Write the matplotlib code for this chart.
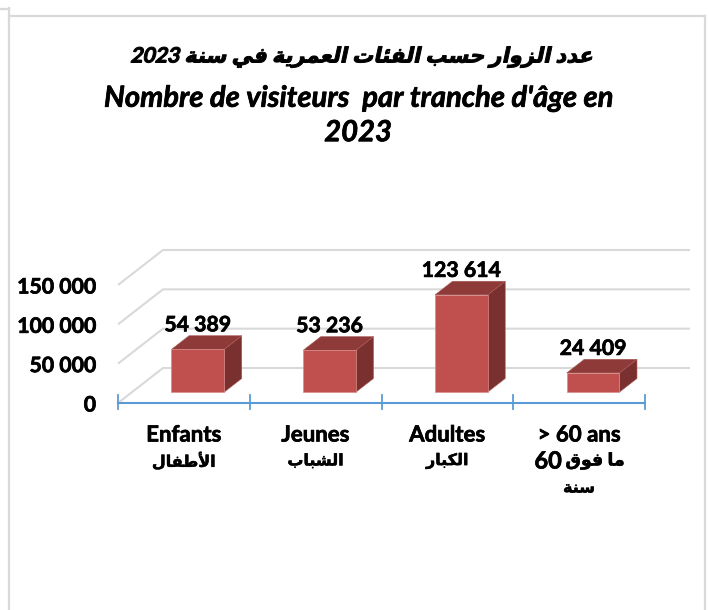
import unicodedata

import matplotlib
matplotlib.use('Agg')
import matplotlib.pyplot as plt
import matplotlib.patheffects as pe
from matplotlib.lines import Line2D
from matplotlib.patches import Polygon
from matplotlib.transforms import Affine2D

title_ar = 'عدد الزوار حسب الفئات العمرية في سنة 2023'
title_fr = "Nombre de visiteurs  par tranche d'âge en\n2023"
cats_fr = ['Enfants', 'Jeunes', 'Adultes', '> 60 ans']
cats_ar = [['الأطفال'], ['الشباب'], ['الكبار'], ['ما فوق 60', 'سنة']]
visitors = [54389, 53236, 123614, 24409]
y_ticks = [0, 50000, 100000, 150000]

W, H = 709, 610
CAT_PX = 131.75
VAL_PX = 118 / 150000
DEPTH_X, DEPTH_Y = 45, 35
FONT = ['Lato', 'DejaVu Sans']
HEAVY = [pe.Stroke(linewidth=0.5, foreground='black'), pe.Normal()]
HEAVY_AR = [pe.Stroke(linewidth=0.35, foreground='black'), pe.Normal()]


# matplotlib does no arabic shaping, so pick the presentation forms by hand
forms = {}
for code in list(range(0xFB50, 0xFE00)) + list(range(0xFE70, 0xFEFD)):
    dec = unicodedata.decomposition(chr(code)).split()
    if len(dec) >= 2 and dec[0] in ('<isolated>', '<final>', '<initial>', '<medial>'):
        key = ''.join(chr(int(c, 16)) for c in dec[1:])
        forms.setdefault(key, {}).setdefault(dec[0], chr(code))

NO_LEFT_JOIN = 'اأإآدذرزوؤةى'


def shape_word(word):
    items = []
    i = 0
    while i < len(word):
        if word[i] == 'ل' and i + 1 < len(word) and word[i + 1] in 'اأإآ':
            items.append(word[i:i + 2])
            i += 2
        else:
            items.append(word[i])
            i += 1
    out = []
    for i, c in enumerate(items):
        prev_joins = i > 0 and items[i - 1] not in NO_LEFT_JOIN and len(items[i - 1]) == 1
        next_joins = i < len(items) - 1 and c not in NO_LEFT_JOIN and len(c) == 1
        if prev_joins and next_joins:
            kind = '<medial>'
        elif prev_joins:
            kind = '<final>'
        elif next_joins:
            kind = '<initial>'
        else:
            kind = '<isolated>'
        out.append(forms[c][kind])
    return ''.join(reversed(out))


def rtl(text):
    words = [w if w.isdigit() else shape_word(w) for w in text.split(' ')]
    return ' '.join(reversed(words))


class Slant(pe.AbstractPathEffect):
    # no italic arabic in the installed fonts, so lean the upright glyphs
    def __init__(self, x0, y0, deg=12, lw=0.5):
        super().__init__()
        self.skew = Affine2D().translate(-x0, -y0).skew_deg(deg, 0).translate(x0, y0)
        self.lw = lw

    def draw_path(self, renderer, gc, tpath, affine, rgbFace=None):
        gc0 = renderer.new_gc()
        gc0.copy_properties(gc)
        gc0.set_linewidth(self.lw)
        gc0.set_foreground('black')
        renderer.draw_path(gc0, tpath, affine + self.skew, rgbFace)
        gc0.restore()


def px(cat, value, depth=0.0):
    # oblique projection, written in data units of the axes
    return cat + depth * DEPTH_X / CAT_PX, value + depth * DEPTH_Y / VAL_PX


fig = plt.figure(figsize=(W / 100, H / 100), dpi=100)
ax = fig.add_axes([0, 0, 1, 1])
ax.set_xlim(-118 / CAT_PX, (W - 118) / CAT_PX)
ax.set_ylim(-(H - 403) / VAL_PX, 403 / VAL_PX)
ax.axis('off')

# chart frame
for xs, ys in [((9, 9), (8, 610)), ((0, 9), (8.5, 8.5)), ((9, 705), (16, 16)), ((705, 705), (16, 610))]:
    fig.add_artist(Line2D([x / W for x in xs], [1 - y / H for y in ys], color='#D9D9D9', lw=1.6))

# floor and back wall grid
n = len(cats_fr)
for v in y_ticks:
    pts = [px(0, v), px(0, v, 1), px(n, v, 1)]
    ax.plot(*zip(*pts), color='#D9D9D9', lw=1.5, zorder=1, solid_capstyle='butt')
    ax.text(-22 / CAT_PX, v - 2.5 / VAL_PX, f'{v:,}'.replace(',', ' '), ha='right', va='center',
            family=FONT, weight='bold', fontsize=15.3, color='black', path_effects=HEAVY)

# category axis
ax.plot([0, n], [0, 0], color='#5B9BD5', lw=1.5, zorder=2)
for i in range(n + 1):
    ax.plot([i, i], [-6 / VAL_PX, 8 / VAL_PX], color='#5B9BD5', lw=1.3, zorder=2)

# 3d bars
D0, D1 = 0.31, 0.70
HALF = 0.2
for i, v in enumerate(visitors):
    c = i + 0.5
    l, r = c - HALF, c + HALF
    front = [px(l, 0, D0), px(r, 0, D0), px(r, v, D0), px(l, v, D0)]
    side = [px(r, 0, D0), px(r, 0, D1), px(r, v, D1), px(r, v, D0)]
    top = [px(l, v, D0), px(r, v, D0), px(r, v, D1), px(l, v, D1)]
    ax.add_patch(Polygon(side, facecolor='#7A302E', edgecolor='#A85A58', lw=0.4, zorder=3))
    ax.add_patch(Polygon(top, facecolor='#8E3A38', edgecolor='#A85A58', lw=0.4, zorder=3))
    ax.add_patch(Polygon(front, facecolor='#C0504D', edgecolor='#D88C8A', lw=0.5, zorder=4))
    lx, ly = px(c, v, D0)
    ax.annotate(f'{v:,}'.replace(',', ' '), (lx, ly), xytext=(0, 17.3), textcoords='offset points',
                ha='center', va='center', family=FONT, weight='bold', fontsize=15.3, color='black',
                zorder=5, path_effects=HEAVY)
    ax.text(c, -32 / VAL_PX, cats_fr[i], ha='center', va='center', family=FONT, weight='bold',
            fontsize=16, path_effects=HEAVY)
    for j, line in enumerate(cats_ar[i]):
        y = (-58 - 27.5 * j) / VAL_PX
        words = line.split(' ')
        if words[-1].isdigit():
            # the number sits left of the arabic words and is set larger
            ax.text(c + 16 / CAT_PX, y, rtl(' '.join(words[:-1])), ha='center', va='center',
                    family=FONT, weight='bold', fontsize=12.5, path_effects=HEAVY_AR)
            ax.text(c - 31 / CAT_PX, y, words[-1], ha='center', va='center',
                    family=FONT, weight='bold', fontsize=17, path_effects=HEAVY)
        else:
            ax.text(c, y, rtl(line), ha='center', va='center',
                    family=FONT, weight='bold', fontsize=11.5, path_effects=HEAVY_AR)

# titles
ax.text(361 / W, 1 - 57 / H, rtl(title_ar), transform=ax.transAxes, ha='center', va='center',
        family=FONT, weight='bold', fontsize=15.2,
        path_effects=[Slant(361, H - 64, lw=0.7)])
ax.text(358 / W, 1 - 116 / H, title_fr, transform=ax.transAxes, ha='center', va='center',
        family=FONT, weight='bold', style='italic', fontsize=21, linespacing=1.4,
        path_effects=HEAVY)

fig.savefig('out.png', dpi=100)
